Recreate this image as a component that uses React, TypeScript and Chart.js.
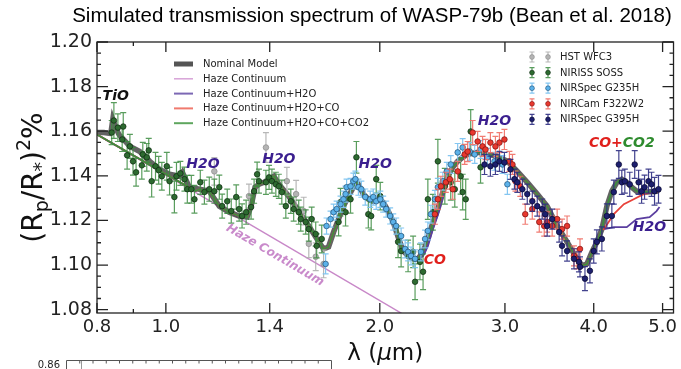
import React, { useEffect, useRef } from 'react';
import { Chart, registerables } from 'chart.js';

Chart.register(...registerables);

// ---------- axes ----------
const xTickValues = [0.8, 1.0, 1.4, 2.0, 3.0, 4.0, 5.0];
const xMinorTicks = [0.9];
const yTickValues = [1.08, 1.10, 1.12, 1.14, 1.16, 1.18, 1.20];

// ---------- labels ----------
const modelLabels = ['Nominal Model', 'Haze Continuum', 'Haze Continuum+H2O', 'Haze Continuum+H2O+CO', 'Haze Continuum+H2O+CO+CO2'];
const instrumentLabels = ['HST WFC3', 'NIRISS SOSS', 'NIRSpec G235H', 'NIRCam F322W2', 'NIRSpec G395H'];

// ---------- models ----------
const nominalWl = [0.800, 0.818, 0.834, 0.837, 0.842, 0.850, 0.859, 0.890, 0.919, 0.949, 0.980, 1.012, 1.045, 1.055, 1.079,
  1.115, 1.151, 1.189, 1.228, 1.268, 1.301, 1.318, 1.335, 1.352, 1.374, 1.397, 1.419, 1.442, 1.489, 1.538, 1.589, 1.641,
  1.667, 1.694, 1.722, 1.750, 1.778, 1.807, 1.836, 1.855, 1.866, 1.896, 1.927, 1.958, 1.990, 2.022, 2.055, 2.089, 2.122,
  2.157, 2.192, 2.228, 2.263, 2.301, 2.337, 2.375, 2.414, 2.453, 2.493, 2.533, 2.574, 2.616, 2.659, 2.746, 2.835, 2.928,
  3.024, 3.123, 3.225, 3.331, 3.440, 3.553, 3.669, 3.789, 3.851, 3.913, 3.978, 4.041, 4.107, 4.174, 4.242, 4.311, 4.381,
  4.452, 4.524, 4.597, 4.747, 4.903, 4.950];
const nominalVal = [1.1594, 1.1594, 1.1590, 1.1594, 1.1652, 1.1616, 1.1585, 1.1532, 1.1509, 1.1465, 1.1429, 1.1407, 1.1398, 1.1416, 1.1349,
  1.1340, 1.1331, 1.1264, 1.1237, 1.1220, 1.1215, 1.1264, 1.1349, 1.1362, 1.1371, 1.1385, 1.1398, 1.1362, 1.1309, 1.1242, 1.1175, 1.1104,
  1.1072, 1.1081, 1.1148, 1.1206, 1.1264, 1.1309, 1.1349, 1.1375, 1.1362, 1.1318, 1.1295, 1.1286, 1.1295, 1.1282, 1.1242, 1.1193, 1.1126,
  1.1063, 1.1041, 1.1028, 1.1028, 1.1059, 1.1117, 1.1190, 1.1251, 1.1327, 1.1398, 1.1438, 1.1465, 1.1483, 1.1496, 1.1505, 1.1496, 1.1487,
  1.1465, 1.1420, 1.1371, 1.1318, 1.1264, 1.1175, 1.1104, 1.1028, 1.0997, 1.1005, 1.1059, 1.1104, 1.1161, 1.1264, 1.1331, 1.1371, 1.1385,
  1.1371, 1.1349, 1.1331, 1.1327, 1.1331, 1.1340];
const hazeWl = [0.8, 2.25];
const hazeVal = [1.1585, 1.0745];
const fullStartWl = [0.8, 1.1];
const fullStartVal = [1.1585, 1.1332];
const coTailWl = [4.134, 4.269, 4.410, 4.553, 4.701, 4.950];
const coTailVal = [1.1161, 1.1228, 1.1273, 1.1295, 1.1318, 1.1331];
const h2oCoWl = [2.263, 2.301, 2.337, 2.375, 2.414, 2.453];
const h2oCoVal = [1.1028, 1.1040, 1.1085, 1.1160, 1.1225, 1.1305];
const h2oTailWl = [4.140, 4.269, 4.452, 4.597, 4.794, 4.903, 4.950];
const h2oTailVal = [1.1161, 1.1170, 1.1170, 1.1206, 1.1215, 1.1242, 1.1260];

// ---------- observations ----------
const wfc3Wl = [1.170, 1.309, 1.383, 1.480, 1.525, 1.563, 1.589, 1.625, 1.667];
const wfc3Val = [1.1420, 1.1309, 1.1527, 1.1376, 1.1318, 1.1242, 1.1095, 1.1037, 1.1005];
const wfc3Err = [0.0062, 0.0054, 0.0067, 0.0062, 0.0062, 0.0062, 0.0062, 0.0062, 0.0062];

const nirissWl = [0.839, 0.845, 0.856, 0.871, 0.868, 0.882, 0.890, 0.899, 0.908, 0.925,
  0.928, 0.940, 0.946, 0.955, 0.967, 0.977, 0.987, 1.003, 1.012, 1.028,
  1.035, 1.048, 1.062, 1.072, 1.086, 1.097, 1.118, 1.133, 1.151, 1.170,
  1.189, 1.200, 1.220, 1.236, 1.256, 1.268, 1.280, 1.297, 1.318, 1.331,
  1.344, 1.352, 1.383, 1.397, 1.410, 1.428, 1.442, 1.456, 1.475, 1.499,
  1.513, 1.538, 1.548, 1.573, 1.589, 1.604, 1.625, 1.630, 1.657, 1.750,
  1.761, 1.790, 1.819, 1.854, 1.927, 1.945, 1.977, 2.003, 2.122, 2.143,
  2.192, 2.228, 2.242, 2.278, 2.301, 2.337, 2.375, 2.414, 2.469, 2.517,
  2.550, 2.599, 2.616, 2.642, 2.685, 2.772];
const nirissVal = [1.1594, 1.1648, 1.1616, 1.1621, 1.1563, 1.1492, 1.1532, 1.1465, 1.1416, 1.1447,
  1.1496, 1.1483, 1.1514, 1.1376, 1.1443, 1.1425, 1.1398, 1.1443, 1.1376, 1.1305,
  1.1398, 1.1411, 1.1385, 1.1340, 1.1340, 1.1295, 1.1371, 1.1327, 1.1340, 1.1331,
  1.1349, 1.1264, 1.1286, 1.1242, 1.1305, 1.1251, 1.1220, 1.1237, 1.1260, 1.1331,
  1.1407, 1.1376, 1.1371, 1.1393, 1.1376, 1.1362, 1.1353, 1.1327, 1.1264, 1.1286,
  1.1251, 1.1237, 1.1206, 1.1193, 1.1161, 1.1206, 1.1139, 1.1086, 1.1117, 1.1193,
  1.1282, 1.1237, 1.1295, 1.1483, 1.1228, 1.1220, 1.1385, 1.1309, 1.1104, 1.1063,
  1.1041, 1.1059, 1.0925, 1.1014, 1.0970, 1.1295, 1.1237, 1.1465, 1.1353, 1.1371,
  1.1340, 1.1398, 1.1327, 1.1295, 1.1599, 1.1438];
const nirissErr = [0.0054, 0.0080, 0.0062, 0.0062, 0.0054, 0.0062, 0.0054, 0.0062, 0.0062, 0.0062,
  0.0054, 0.0062, 0.0054, 0.0071, 0.0062, 0.0062, 0.0062, 0.0062, 0.0062, 0.0071,
  0.0062, 0.0054, 0.0054, 0.0062, 0.0062, 0.0062, 0.0054, 0.0054, 0.0054, 0.0054,
  0.0054, 0.0054, 0.0054, 0.0054, 0.0054, 0.0054, 0.0054, 0.0054, 0.0054, 0.0054,
  0.0054, 0.0054, 0.0054, 0.0054, 0.0054, 0.0054, 0.0054, 0.0054, 0.0054, 0.0054,
  0.0054, 0.0054, 0.0054, 0.0054, 0.0054, 0.0054, 0.0054, 0.0054, 0.0062, 0.0062,
  0.0062, 0.0062, 0.0062, 0.0071, 0.0062, 0.0062, 0.0062, 0.0062, 0.0071, 0.0071,
  0.0071, 0.0071, 0.0080, 0.0080, 0.0080, 0.0090, 0.0080, 0.0098, 0.0080, 0.0080,
  0.0080, 0.0080, 0.0080, 0.0090, 0.0098, 0.0071];

const g235Wl = [1.678, 1.683, 1.705, 1.722, 1.739, 1.761, 1.778, 1.790, 1.796, 1.819,
  1.836, 1.848, 1.866, 1.884, 1.908, 1.939, 1.958, 1.977, 2.003, 2.022,
  2.042, 2.068, 2.089, 2.109, 2.143, 2.171, 2.192, 2.213, 2.242, 2.285,
  2.316, 2.337, 2.360, 2.391, 2.414, 2.453, 2.485, 2.517, 2.574, 2.616,
  2.676, 2.720, 2.772, 2.835, 2.900, 2.976, 3.024];
const g235Val = [1.1005, 1.1175, 1.1206, 1.1237, 1.1251, 1.1273, 1.1295, 1.1318, 1.1349, 1.1353,
  1.1376, 1.1385, 1.1349, 1.1340, 1.1305, 1.1295, 1.1305, 1.1286, 1.1295, 1.1273,
  1.1251, 1.1220, 1.1193, 1.1175, 1.1130, 1.1072, 1.1059, 1.1041, 1.1028, 1.1059,
  1.1117, 1.1153, 1.1228, 1.1295, 1.1349, 1.1376, 1.1420, 1.1451, 1.1505, 1.1527,
  1.1509, 1.1496, 1.1518, 1.1483, 1.1465, 1.1451, 1.1362];
const g235Err = [0.0045, 0.0036, 0.0036, 0.0036, 0.0036, 0.0036, 0.0036, 0.0036, 0.0036, 0.0036,
  0.0036, 0.0036, 0.0036, 0.0036, 0.0036, 0.0036, 0.0036, 0.0036, 0.0036, 0.0036,
  0.0036, 0.0036, 0.0036, 0.0036, 0.0036, 0.0040, 0.0040, 0.0040, 0.0040, 0.0040,
  0.0040, 0.0040, 0.0040, 0.0040, 0.0040, 0.0040, 0.0040, 0.0040, 0.0040, 0.0040,
  0.0040, 0.0040, 0.0040, 0.0040, 0.0040, 0.0040, 0.0045];

const nircamWl = [2.391, 2.414, 2.438, 2.477, 2.509, 2.533, 2.574, 2.633, 2.659, 2.702,
  2.746, 2.790, 2.817, 2.862, 2.909, 2.947, 2.995, 3.044, 3.074, 3.104,
  3.153, 3.204, 3.278, 3.353, 3.407, 3.440, 3.496, 3.553, 3.610, 3.669,
  3.752, 3.789, 3.826];
const nircamVal = [1.1228, 1.1295, 1.1353, 1.1371, 1.1385, 1.1340, 1.1420, 1.1496, 1.1509, 1.1594,
  1.1554, 1.1532, 1.1518, 1.1549, 1.1532, 1.1549, 1.1563, 1.1465, 1.1451, 1.1376,
  1.1353, 1.1228, 1.1251, 1.1193, 1.1175, 1.1193, 1.1175, 1.1206, 1.1161, 1.1175,
  1.1041, 1.1028, 1.1072];
const nircamErr = [0.0045, 0.0045, 0.0045, 0.0045, 0.0045, 0.0045, 0.0045, 0.0045, 0.0045, 0.0054,
  0.0045, 0.0045, 0.0045, 0.0045, 0.0045, 0.0045, 0.0045, 0.0045, 0.0045, 0.0045,
  0.0045, 0.0045, 0.0045, 0.0045, 0.0045, 0.0045, 0.0045, 0.0045, 0.0045, 0.0045,
  0.0045, 0.0045, 0.0045];

const g395Wl = [2.808, 2.862, 2.909, 2.947, 2.995, 3.054, 3.094, 3.123, 3.174, 3.225,
  3.278, 3.331, 3.385, 3.418, 3.440, 3.496, 3.576, 3.610, 3.669, 3.752,
  3.813, 3.826, 3.888, 3.951, 4.000, 4.041, 4.107, 4.174, 4.242, 4.269,
  4.339, 4.381, 4.424, 4.495, 4.568, 4.626, 4.671, 4.716, 4.777, 4.824,
  4.871, 4.934];
const g395Val = [1.1451, 1.1443, 1.1451, 1.1465, 1.1460, 1.1429, 1.1385, 1.1371, 1.1340, 1.1318,
  1.1286, 1.1264, 1.1251, 1.1228, 1.1175, 1.1206, 1.1148, 1.1086, 1.1063, 1.1028,
  1.1014, 1.0992, 1.0939, 1.0974, 1.1063, 1.1104, 1.1117, 1.1220, 1.1220, 1.1327,
  1.1451, 1.1371, 1.1376, 1.1362, 1.1451, 1.1371, 1.1331, 1.1349, 1.1376, 1.1362,
  1.1331, 1.1340];
const g395Err = [0.0045, 0.0045, 0.0045, 0.0045, 0.0045, 0.0045, 0.0045, 0.0045, 0.0045, 0.0045,
  0.0045, 0.0045, 0.0045, 0.0045, 0.0045, 0.0045, 0.0045, 0.0045, 0.0045, 0.0045,
  0.0045, 0.0045, 0.0054, 0.0054, 0.0054, 0.0054, 0.0054, 0.0054, 0.0054, 0.0054,
  0.0062, 0.0054, 0.0054, 0.0054, 0.0062, 0.0054, 0.0054, 0.0054, 0.0054, 0.0054,
  0.0062, 0.0062];

// ---------- helpers ----------
type P = { x: number; y: number };
const pts = (wl: number[], val: number[]): P[] => wl.map((x, i) => ({ x, y: val[i] }));

const nominalPts = pts(nominalWl, nominalVal);
const fullPts = [...pts(fullStartWl, fullStartVal), ...nominalPts.filter(p => p.x > 1.105)];
const coPts = [...fullPts.filter(p => p.x <= 4.11), ...pts(coTailWl, coTailVal)];
const h2oPts = [
  ...fullPts.filter(p => p.x < 2.26),
  ...pts(h2oCoWl, h2oCoVal),
  ...fullPts.filter(p => p.x > 2.46 && p.x <= 4.11),
  ...pts(h2oTailWl, h2oTailVal),
];

const SANS = 'DejaVu Sans';
const H2O_COLOR = '#3b1f8f';

const instStyles = [
  { fill: '#b4b4b4', edge: '#8a8a8a', bar: 'rgba(175,175,175,0.9)' },
  { fill: '#2d6a30', edge: '#0d2a10', bar: 'rgba(60,140,65,0.85)' },
  { fill: '#5cb2ea', edge: '#1f4f74', bar: 'rgba(125,195,240,0.95)' },
  { fill: '#e8382e', edge: '#7a1010', bar: 'rgba(240,110,100,0.9)' },
  { fill: '#1d1f6e', edge: '#07072e', bar: 'rgba(45,45,130,0.9)' },
];
const modelStyles = [
  { color: '#555555', width: 5 },
  { color: '#d7a3d7', width: 1.5 },
  { color: '#7c68b4', width: 2 },
  { color: '#f07a6e', width: 2 },
  { color: '#5ea65e', width: 2 },
];

const decorPlugin = {
  id: 'decor',
  beforeDatasetDraw(chart: any, args: any) {
    const ds: any = chart.data.datasets[args.index];
    if (!ds.errors) return;
    const xs = chart.scales.x, ys = chart.scales.y, a = chart.chartArea, ctx = chart.ctx;
    ctx.save();
    ctx.beginPath();
    ctx.rect(a.left, a.top, a.right - a.left, a.bottom - a.top);
    ctx.clip();
    ctx.strokeStyle = ds.errColor;
    ctx.lineWidth = 1.2;
    ds.data.forEach((p: P, i: number) => {
      const x = xs.getPixelForValue(p.x);
      const y1 = ys.getPixelForValue(p.y - ds.errors[i]);
      const y2 = ys.getPixelForValue(p.y + ds.errors[i]);
      ctx.beginPath();
      ctx.moveTo(x, y1); ctx.lineTo(x, y2);
      ctx.moveTo(x - 3, y1); ctx.lineTo(x + 3, y1);
      ctx.moveTo(x - 3, y2); ctx.lineTo(x + 3, y2);
      ctx.stroke();
    });
    ctx.restore();
  },
  afterDatasetsDraw(chart: any) {
    const xs = chart.scales.x, ys = chart.scales.y, a = chart.chartArea, ctx = chart.ctx;
    ctx.save();
    // frame
    ctx.strokeStyle = '#222';
    ctx.lineWidth = 1.3;
    ctx.strokeRect(a.left, a.top, a.right - a.left, a.bottom - a.top);
    ctx.beginPath();
    xTickValues.forEach(v => {
      const x = xs.getPixelForValue(v);
      ctx.moveTo(x, a.bottom); ctx.lineTo(x, a.bottom - 10);
      ctx.moveTo(x, a.top); ctx.lineTo(x, a.top + 10);
    });
    xMinorTicks.forEach(v => {
      const x = xs.getPixelForValue(v);
      ctx.moveTo(x, a.bottom); ctx.lineTo(x, a.bottom - 4);
      ctx.moveTo(x, a.top); ctx.lineTo(x, a.top + 4);
    });
    yTickValues.forEach(v => {
      const y = ys.getPixelForValue(v);
      ctx.moveTo(a.left, y); ctx.lineTo(a.left + 11, y);
      ctx.moveTo(a.right, y); ctx.lineTo(a.right - 11, y);
    });
    for (let k = 0; k <= 24; k++) {
      if (k % 4 === 0) continue;
      const y = ys.getPixelForValue(1.08 + k * 0.005);
      ctx.moveTo(a.left, y); ctx.lineTo(a.left + 4, y);
      ctx.moveTo(a.right, y); ctx.lineTo(a.right - 4, y);
    }
    ctx.stroke();

    // annotations
    const label = (text: string, wl: number, v: number, color: string, size = 14) => {
      ctx.font = `italic bold ${size}px ${SANS}`;
      ctx.fillStyle = color;
      ctx.textAlign = 'center';
      ctx.textBaseline = 'middle';
      ctx.fillText(text, xs.getPixelForValue(wl), ys.getPixelForValue(v));
    };
    label('TiO', 0.850, 1.1755, '#111', 14);
    label('H2O', 1.128, 1.1451, H2O_COLOR);
    label('H2O', 1.442, 1.1474, H2O_COLOR);
    label('H2O', 1.970, 1.1451, H2O_COLOR);
    label('H2O', 2.900, 1.1643, H2O_COLOR);
    label('CO', 2.391, 1.1019, '#e0201c');
    label('H2O', 4.790, 1.1170, H2O_COLOR);
    // CO+CO2
    {
      ctx.font = `italic bold 14px ${SANS}`;
      const w1 = ctx.measureText('CO+').width, w2 = ctx.measureText('CO2').width;
      const cx = xs.getPixelForValue(4.381), cy = ys.getPixelForValue(1.1545);
      const x0 = cx - (w1 + w2) / 2;
      ctx.textAlign = 'left';
      ctx.textBaseline = 'middle';
      ctx.fillStyle = '#e0201c';
      ctx.fillText('CO+', x0, cy);
      ctx.fillStyle = '#2e8b2e';
      ctx.fillText('CO2', x0 + w1, cy);
    }
    // Haze Continuum along the line
    {
      const x1 = xs.getPixelForValue(hazeWl[0]), y1 = ys.getPixelForValue(hazeVal[0]);
      const x2 = xs.getPixelForValue(hazeWl[1]), y2 = ys.getPixelForValue(hazeVal[1]);
      const ang = Math.atan2(y2 - y1, x2 - x1);
      const t = 0.58;
      const px = x1 + (x2 - x1) * t, py = y1 + (y2 - y1) * t;
      ctx.save();
      ctx.translate(px - Math.sin(ang) * 14, py + Math.cos(ang) * 14);
      ctx.rotate(ang);
      ctx.font = `italic bold 12px ${SANS}`;
      ctx.fillStyle = '#c98acb';
      ctx.textAlign = 'center';
      ctx.textBaseline = 'middle';
      ctx.fillText('Haze Continuum', 0, 0);
      ctx.restore();
    }

    // model legend
    ctx.font = `10px ${SANS}`;
    ctx.textAlign = 'left';
    ctx.textBaseline = 'middle';
    modelLabels.forEach((lab, i) => {
      const y = 64 + i * 14.8;
      ctx.strokeStyle = modelStyles[i].color;
      ctx.lineWidth = modelStyles[i].width;
      ctx.beginPath();
      ctx.moveTo(174, y); ctx.lineTo(193, y);
      ctx.stroke();
      ctx.fillStyle = '#222';
      ctx.fillText(lab, 203, y + 0.5);
    });
    // instrument legend
    instrumentLabels.forEach((lab, i) => {
      const y = 57 + i * 15.6;
      const st = instStyles[i];
      [532, 548].forEach(x => {
        ctx.strokeStyle = st.bar;
        ctx.lineWidth = 1.2;
        ctx.beginPath();
        ctx.moveTo(x, y - 5); ctx.lineTo(x, y + 5);
        ctx.moveTo(x - 2.5, y - 5); ctx.lineTo(x + 2.5, y - 5);
        ctx.moveTo(x - 2.5, y + 5); ctx.lineTo(x + 2.5, y + 5);
        ctx.stroke();
        ctx.fillStyle = st.fill;
        ctx.strokeStyle = st.edge;
        ctx.lineWidth = 0.6;
        ctx.beginPath();
        ctx.arc(x, y, 2.4, 0, Math.PI * 2);
        ctx.fill();
        ctx.stroke();
      });
      ctx.fillStyle = '#222';
      ctx.fillText(lab, 560, y + 0.5);
    });
    ctx.restore();
  },
  afterDraw(chart: any) {
    const ctx = chart.ctx, a = chart.chartArea;
    ctx.save();
    // title
    ctx.font = '20.5px "Liberation Sans"';
    ctx.fillStyle = '#000';
    ctx.textAlign = 'center';
    ctx.textBaseline = 'middle';
    ctx.fillText('Simulated transmission spectrum of WASP-79b (Bean et al. 2018)', 372, 16);

    const drawRuns = (runs: { t: string; f: string; dy: number }[], cx: number, cy: number) => {
      let w = 0;
      runs.forEach(r => { ctx.font = r.f; w += ctx.measureText(r.t).width; });
      let x = cx - w / 2;
      ctx.textAlign = 'left';
      ctx.textBaseline = 'alphabetic';
      runs.forEach(r => { ctx.font = r.f; ctx.fillText(r.t, x, cy + r.dy); x += ctx.measureText(r.t).width; });
    };
    ctx.fillStyle = '#111';
    // x title
    const big = `23px ${SANS}`;
    drawRuns([
      { t: 'λ (', f: big, dy: 0 },
      { t: 'μ', f: `italic 23px ${SANS}`, dy: 0 },
      { t: 'm)', f: big, dy: 0 },
    ], (a.left + a.right) / 2, 360);

    // y title
    ctx.save();
    ctx.translate(42, (a.top + a.bottom) / 2);
    ctx.rotate(-Math.PI / 2);
    const yb = `28px ${SANS}`, ysm = `19px ${SANS}`;
    drawRuns([
      { t: '(R', f: yb, dy: 0 },
      { t: 'p', f: ysm, dy: 6 },
      { t: '/R', f: yb, dy: 0 },
      { t: '*', f: ysm, dy: 5 },
      { t: ')', f: yb, dy: 0 },
      { t: '2', f: ysm, dy: -12 },
      { t: '%', f: yb, dy: 0 },
    ], 0, 0);
    ctx.restore();

    // top edge of the panel below
    ctx.strokeStyle = '#555';
    ctx.lineWidth = 1;
    ctx.beginPath();
    ctx.moveTo(66.5, 369); ctx.lineTo(66.5, 360.5); ctx.lineTo(331.5, 360.5); ctx.lineTo(331.5, 369);
    for (let k = 1; k < 20; k++) {
      const x = 66.5 + k * 13.25;
      ctx.moveTo(x, 360.5); ctx.lineTo(x, 363.5);
    }
    ctx.stroke();
    ctx.strokeStyle = '#999';
    ctx.beginPath();
    ctx.moveTo(81.5, 361); ctx.lineTo(81.5, 369);
    ctx.stroke();
    ctx.fillStyle = '#222';
    ctx.font = `10px ${SANS}`;
    ctx.textAlign = 'right';
    ctx.textBaseline = 'middle';
    ctx.fillText('0.86', 60, 365);
    ctx.restore();
  },
};

export default function App() {
  const ref = useRef<HTMLCanvasElement | null>(null);
  useEffect(() => {
    if (!ref.current) return;
    const inst = (i: number, wl: number[], val: number[], err: number[], order: number) => ({
      label: instrumentLabels[i],
      data: pts(wl, val),
      errors: err,
      errColor: instStyles[i].bar,
      backgroundColor: instStyles[i].fill,
      borderColor: instStyles[i].edge,
      borderWidth: 0.7,
      pointRadius: 2.8,
      showLine: false,
      order,
    });
    const model = (i: number, data: P[], order: number) => ({
      label: modelLabels[i],
      data,
      showLine: true,
      borderColor: i === 0 ? 'rgba(72,72,72,0.85)' : ['', '#c888c8', '#5b3fa0', '#e8423a', '#3e8e3e'][i],
      borderWidth: i === 0 ? 5.5 : i === 1 ? 1.4 : 1.8,
      pointRadius: 0,
      tension: 0,
      order,
    });
    const chart = new Chart(ref.current, {
      type: 'scatter',
      data: {
        datasets: [
          inst(4, g395Wl, g395Val, g395Err, 1),
          inst(3, nircamWl, nircamVal, nircamErr, 2),
          inst(2, g235Wl, g235Val, g235Err, 3),
          inst(1, nirissWl, nirissVal, nirissErr, 4),
          inst(0, wfc3Wl, wfc3Val, wfc3Err, 5),
          model(4, fullPts, 10),
          model(3, coPts, 11),
          model(2, h2oPts, 12),
          model(0, nominalPts, 13),
          model(1, pts(hazeWl, hazeVal), 14),
        ] as any,
      },
      options: {
        animation: false,
        responsive: true,
        maintainAspectRatio: false,
        devicePixelRatio: 1,
        layout: { padding: { top: 42, right: 4, left: 0, bottom: 0 } },
        plugins: { legend: { display: false }, tooltip: { enabled: false }, title: { display: false } },
        scales: {
          x: {
            type: 'logarithmic',
            min: 0.8,
            max: 5.18,
            afterBuildTicks: (s: any) => { s.ticks = xTickValues.map(v => ({ value: v })); },
            afterFit: (s: any) => { s.height = 56; },
            ticks: {
              callback: (v: any) => Number(v).toFixed(1),
              font: { family: SANS, size: 18 },
              color: '#222',
              maxRotation: 0,
              autoSkip: false,
              padding: 4,
            },
            grid: { display: false, drawTicks: false },
            border: { display: false },
          },
          y: {
            type: 'linear',
            min: 1.0785,
            max: 1.20,
            afterBuildTicks: (s: any) => { s.ticks = yTickValues.map(v => ({ value: v })); },
            afterFit: (s: any) => { s.width = 97; },
            ticks: {
              callback: (v: any) => Number(v).toFixed(2),
              font: { family: SANS, size: 19 },
              color: '#222',
              padding: 5,
            },
            grid: { display: false, drawTicks: false },
            border: { display: false },
          },
        },
      } as any,
      plugins: [decorPlugin],
    });
    return () => chart.destroy();
  }, []);
  return (
    <div style={{ position: 'absolute', left: 0, top: 0, width: 681, height: 369, background: '#fff' }}>
      <canvas ref={ref} />
    </div>
  );
}
